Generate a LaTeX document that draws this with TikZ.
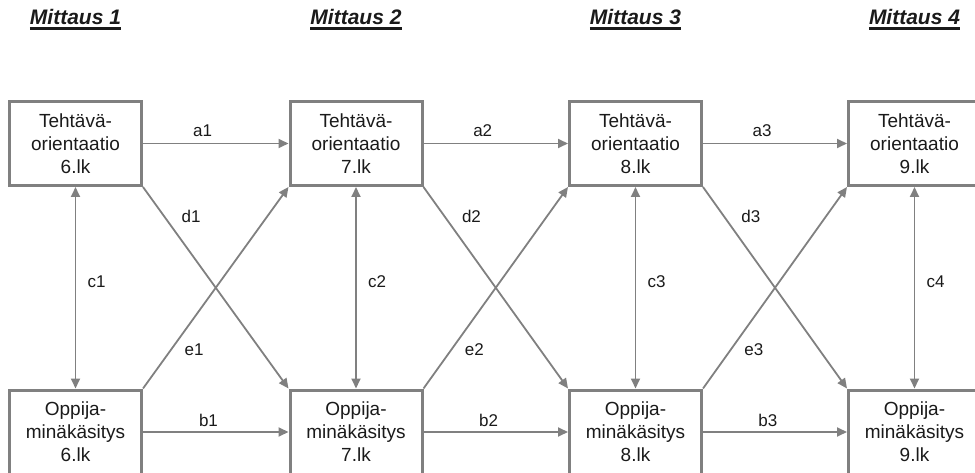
\documentclass[tikz,border=0pt]{standalone}
\usepackage{fontspec}
\setmainfont{Liberation Sans}
\usetikzlibrary{arrows.meta}
\definecolor{lg}{HTML}{808080}
\definecolor{tx}{HTML}{1A1A1A}
\begin{document}
\begin{tikzpicture}[x=1pt,y=-1pt,
  box/.style={draw=lg, line width=3pt, minimum width=132pt, minimum height=84pt,
    inner sep=0pt, align=center, text=tx, font=\fontsize{19}{23}\selectfont},
  con/.style={draw=lg, line width=1.8pt, -{Triangle[length=10pt,width=9pt]}},
  dcon/.style={draw=lg, line width=1.8pt, {Triangle[length=10pt,width=9pt]}-{Triangle[length=10pt,width=9pt]}},
  lab/.style={font=\fontsize{17}{20}\selectfont, inner sep=0pt, text=tx},
  hd/.style={font=\fontsize{21}{25}\selectfont\bfseries\itshape, inner sep=0pt, anchor=base, text=tx},
  ul/.style={draw=tx, line width=2.4pt}]
\useasboundingbox (0,0) rectangle (975,473);
\clip (0,0) rectangle (975,473);
% headers
\foreach \i/\x in {1/75.5,2/356,3/635.5,4/914.5}{
  \node[hd] (h\i) at (\x,25) {Mittaus \i};
  \draw[ul] ([yshift=-3.5pt]h\i.base west) -- ([yshift=-3.5pt]h\i.base east);
}
% boxes
\foreach \i/\x/\g in {1/75.5/6,2/356/7,3/635.5/8,4/914.5/9}{
  \node[box] (T\i) at (\x,143.5) {Tehtävä-\\orientaatio\\\g.lk};
  \node[box] (O\i) at (\x,432) {Oppija-\\minäkäsitys\\\g.lk};
}
% connectors
\foreach \i/\j in {1/2,2/3,3/4}{
  \draw[con] (T\i.east) -- node[lab,pos=0.41,yshift=13pt] (la\i) {a\i} (T\j.west);
  \draw[con] (O\i.east) -- node[lab,pos=0.45,yshift=12pt] (lb\i) {b\i} (O\j.west);
  \draw[con] (T\i.south east) -- node[lab,pos=0.145,xshift=27pt] (ld\i) {d\i} (O\j.north west);
  \draw[con] (O\i.north east) -- node[lab,pos=0.193,xshift=23pt] (le\i) {e\i} (T\j.south west);
}
\foreach \i in {1,2,3,4}{
  \draw[dcon] (T\i.south) -- node[lab,pos=0.47,xshift=21pt] (lc\i) {c\i} (O\i.north);
}
\end{tikzpicture}
\end{document}
